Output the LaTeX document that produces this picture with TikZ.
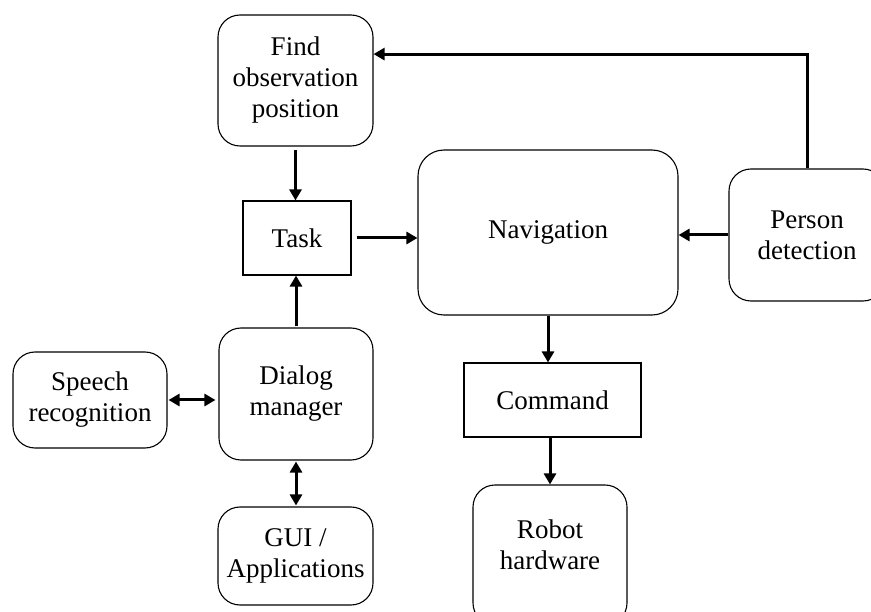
\documentclass[tikz,border=0pt]{standalone}
\usepackage{fontspec}
\setmainfont{Liberation Serif}
\usetikzlibrary{arrows.meta,calc}

\tikzset{
  rbox/.style={draw, line width=1.1pt, rounded corners=22pt, align=center,
    inner sep=0pt, font=\fontsize{27}{31}\selectfont},
  sbox/.style={draw, line width=1.1pt, align=center, inner sep=0pt,
    font=\fontsize{27}{31}\selectfont},
  arr/.style={line width=3pt, -{Triangle[length=11pt,width=12pt]}},
  darr/.style={line width=3pt, {Triangle[length=11pt,width=12pt]}-{Triangle[length=11pt,width=12pt]}}
}

\begin{document}
\begin{tikzpicture}[x=1pt, y=-1pt]
  \clip (0,0) rectangle (871,612);
  \fill[white] (0,0) rectangle (871,612);

  % blocks
  \node[rbox, minimum width=155pt, minimum height=131pt] (find) at (295.5,80.5) {Find\\observation\\position};
  \node[sbox, minimum width=108pt, minimum height=74pt] (task) at (297,238) {Task};
  \node[rbox, rounded corners=26pt, minimum width=260pt, minimum height=165pt] (nav) at (548,232.5) {Navigation};
  \node[rbox, minimum width=156pt, minimum height=132pt] (pd) at (807,235) {Person\\detection};
  \node[rbox, minimum width=154pt, minimum height=96pt] (sp) at (90,400) {Speech\\recognition};
  \node[rbox, minimum width=154pt, minimum height=132pt] (dm) at (296,394) {Dialog\\manager};
  \node[rbox, minimum width=155pt, minimum height=98pt] (gui) at (295.5,556) {GUI /\\Applications};
  \node[sbox, minimum width=177pt, minimum height=74pt] (cmd) at (552.5,400) {Command};
  \node[rbox, minimum width=154pt, minimum height=140pt] (robot) at (550,555) {};
  \node[font=\fontsize{27}{31}\selectfont, align=center] (robottxt) at (550,545) {Robot\\hardware};

  % feedback entry point on the observation block
  \coordinate (fb) at ($(find.north east)!0.3!(find.south east)$);

  % connectors
  \draw[arr, shorten <=3pt] (find.south) -- (find.south |- task.north);
  \draw[arr, shorten <=5pt] (task.east) -- (task.east -| nav.west);
  \draw[arr] (pd.west) -- (pd.west -| nav.east);
  \draw[arr] (pd.north) |- (fb);
  \draw[arr, shorten <=1pt] (dm.north) -- (dm.north |- task.south);
  \draw[darr, shorten <=1pt, shorten >=3pt] (sp.east) -- (sp.east -| dm.west);
  \draw[darr, shorten <=1pt, shorten >=1pt] (dm.south) -- (dm.south |- gui.north);
  \draw[arr] (nav.south) -- (nav.south |- cmd.north);
  \draw[arr] (robot.north |- cmd.south) -- (robot.north);
\end{tikzpicture}
\end{document}
